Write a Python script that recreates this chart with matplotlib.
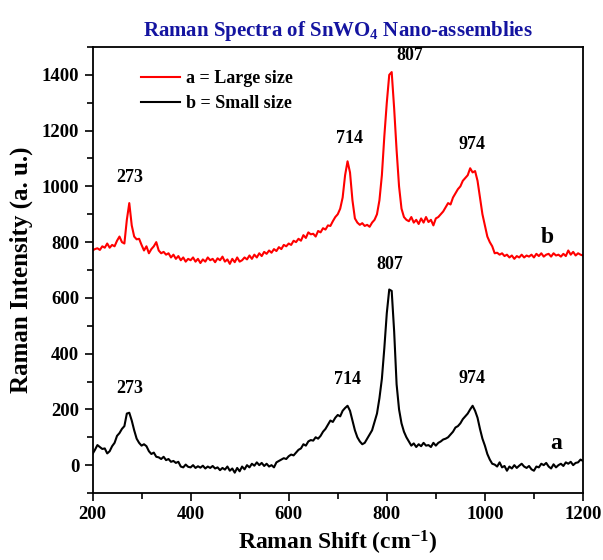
import matplotlib
matplotlib.use("Agg")
import matplotlib.pyplot as plt
from matplotlib.ticker import MultipleLocator

plt.rcParams['font.family'] = ['Liberation Serif', 'DejaVu Serif']
plt.rcParams['font.weight'] = 'bold'
plt.rcParams['axes.titleweight'] = 'bold'
plt.rcParams['axes.labelweight'] = 'bold'
plt.rcParams['mathtext.fontset'] = 'custom'
plt.rcParams['mathtext.rm'] = 'Liberation Serif:bold'
plt.rcParams['mathtext.bf'] = 'Liberation Serif:bold'
plt.rcParams['mathtext.it'] = 'Liberation Serif:bold'

# Raman shift grid (cm-1)
shift = [200, 205, 210, 215, 220, 225, 230, 235, 240, 245, 250, 255, 260, 265, 270, 275, 280, 285, 290, 295,
         300, 305, 310, 315, 320, 325, 330, 335, 340, 345, 350, 355, 360, 365, 370, 375, 380, 385, 390, 395,
         400, 405, 410, 415, 420, 425, 430, 435, 440, 445, 450, 455, 460, 465, 470, 475, 480, 485, 490, 495,
         500, 505, 510, 515, 520, 525, 530, 535, 540, 545, 550, 555, 560, 565, 570, 575, 580, 585, 590, 595,
         600, 605, 610, 615, 620, 625, 630, 635, 640, 645, 650, 655, 660, 665, 670, 675, 680, 685, 690, 695,
         700, 705, 710, 715, 720, 725, 730, 735, 740, 745, 750, 755, 760, 765, 770, 775, 780, 785, 790, 795,
         800, 805, 810, 815, 820, 825, 830, 835, 840, 845, 850, 855, 860, 865, 870, 875, 880, 885, 890, 895,
         900, 905, 910, 915, 920, 925, 930, 935, 940, 945, 950, 955, 960, 965, 970, 975, 980, 985, 990, 995,
         1000, 1005, 1010, 1015, 1020, 1025, 1030, 1035, 1040, 1045, 1050, 1055, 1060, 1065, 1070, 1075, 1080, 1085, 1090, 1095,
         1100, 1105, 1110, 1115, 1120, 1125, 1130, 1135, 1140, 1145, 1150, 1155, 1160, 1165, 1170, 1175, 1180, 1185, 1190, 1195,
         1200]

# red curve (labelled b on plot)
large = [770, 775, 778, 772, 785, 780, 795, 780, 790, 785, 805, 820, 800, 795, 880, 940, 860, 820, 810, 812,
         790, 770, 785, 760, 775, 785, 800, 770, 760, 765, 755, 760, 745, 755, 740, 750, 735, 745, 730, 740,
         735, 745, 730, 740, 725, 738, 730, 745, 735, 740, 728, 742, 735, 748, 730, 738, 722, 740, 728, 745,
         730, 735, 745, 738, 752, 740, 755, 745, 760, 750, 765, 758, 770, 762, 775, 768, 782, 775, 790, 785,
         795, 790, 805, 800, 812, 805, 825, 815, 835, 828, 830, 820, 840, 835, 850, 845, 860, 858, 875, 890,
         900, 920, 960, 1040, 1090, 1050, 950, 885, 870, 862, 868, 858, 862, 855, 870, 880, 900, 950, 1040, 1180,
         1300, 1400, 1410, 1280, 1130, 1000, 920, 890, 880, 875, 890, 870, 880, 865, 885, 870, 890, 872, 880, 860,
         885, 890, 900, 910, 925, 940, 935, 960, 975, 990, 1000, 1020, 1030, 1040, 1065, 1050, 1055, 1020, 960, 900,
         860, 820, 800, 785, 760, 762, 755, 760, 750, 755, 745, 752, 740, 750, 745, 755, 745, 752, 748, 755,
         745, 758, 750, 760, 748, 755, 758, 748, 760, 752, 755, 748, 758, 750, 770, 755, 765, 752, 760, 755,
         752]

# black curve (labelled a on plot)
small = [40, 55, 72, 65, 58, 60, 42, 50, 68, 80, 105, 115, 130, 140, 185, 188, 160, 125, 95, 80,
         70, 75, 68, 50, 40, 45, 30, 28, 22, 30, 18, 22, 12, 15, 8, 12, -5, -8, 2, -6,
         -8, 0, -10, -4, -9, -2, -12, -5, -10, -3, -12, -8, -18, -10, -16, -5, -20, -12, -27, -10,
         -22, -5, -15, 0, -8, 5, -2, 10, 0, 8, -3, 5, -5, 0, -8, 10, 15, 20, 25, 22,
         32, 38, 35, 45, 55, 60, 75, 70, 85, 90, 88, 100, 95, 105, 120, 130, 145, 160, 155, 170,
         180, 175, 195, 205, 213, 195, 160, 125, 100, 85, 75, 80, 95, 110, 125, 155, 185, 240, 310, 420,
         545, 630, 625, 480, 290, 200, 150, 120, 100, 85, 70, 78, 65, 75, 68, 80, 70, 72, 65, 80,
         70, 80, 85, 92, 95, 100, 110, 120, 135, 140, 150, 165, 175, 185, 200, 213, 195, 170, 130, 95,
         70, 40, 20, 5, 2, -5, 10, -8, -3, -20, -5, -12, 0, -10, -2, 5, -5, -10, -3, -15,
         -20, -5, -8, 5, 0, 8, -5, -12, 3, -8, 0, 5, -3, 10, 5, 12, 0, 8, 10, 20,
         15]

peaks = [273, 714, 807, 974]
large_label_x = [276, 724, 847, 973]
large_label_y = [1000, 1140, 1440, 1120]
small_label_x = [276, 719, 807, 973]
small_label_y = [245, 275, 690, 280]

fig = plt.figure(figsize=(6.03, 5.6), dpi=100)
ax = fig.add_axes([0.1534, 0.1196, 0.8134, 0.7965])

ax.plot(shift, large, color='red', lw=1.5, label='a = Large size')
ax.plot(shift, small, color='black', lw=1.5, label='b = Small size')

for i, p in enumerate(peaks):
    ax.text(large_label_x[i], large_label_y[i], str(p), ha='center', va='bottom', fontsize=13)
    ax.text(small_label_x[i], small_label_y[i], str(p), ha='center', va='bottom', fontsize=13)

ax.text(1128, 780, 'b', fontsize=17, ha='center', va='bottom')
ax.text(1145, 40, 'a', fontsize=17, ha='center', va='bottom')

ax.set_xlim(200, 1200)
ax.set_ylim(-100, 1500)
ax.xaxis.set_major_locator(MultipleLocator(200))
ax.xaxis.set_minor_locator(MultipleLocator(100))
ax.yaxis.set_major_locator(MultipleLocator(200))
ax.yaxis.set_minor_locator(MultipleLocator(100))
ax.tick_params(which='major', direction='out', length=6, width=1.2, labelsize=13.5)
ax.tick_params(which='minor', direction='out', length=4, width=1.2)
for s in ax.spines.values():
    s.set_linewidth(1.3)

ax.set_xlabel('Raman Shift (cm$^{-1}$)', fontsize=17, fontweight='bold', labelpad=4)
ax.set_ylabel('Raman Intensity (a. u.)', fontsize=18, fontweight='bold', labelpad=6)
ax.set_title('Raman Spectra of SnWO$_4$ Nano-assemblies', fontsize=15, fontweight='bold',
             color='#1414a0', pad=8)

ax.legend(loc='upper left', bbox_to_anchor=(0.065, 0.985), frameon=False, fontsize=13,
          handlelength=2.2, handletextpad=0.3, labelspacing=0.45)

fig.savefig('out.png', dpi=100)
